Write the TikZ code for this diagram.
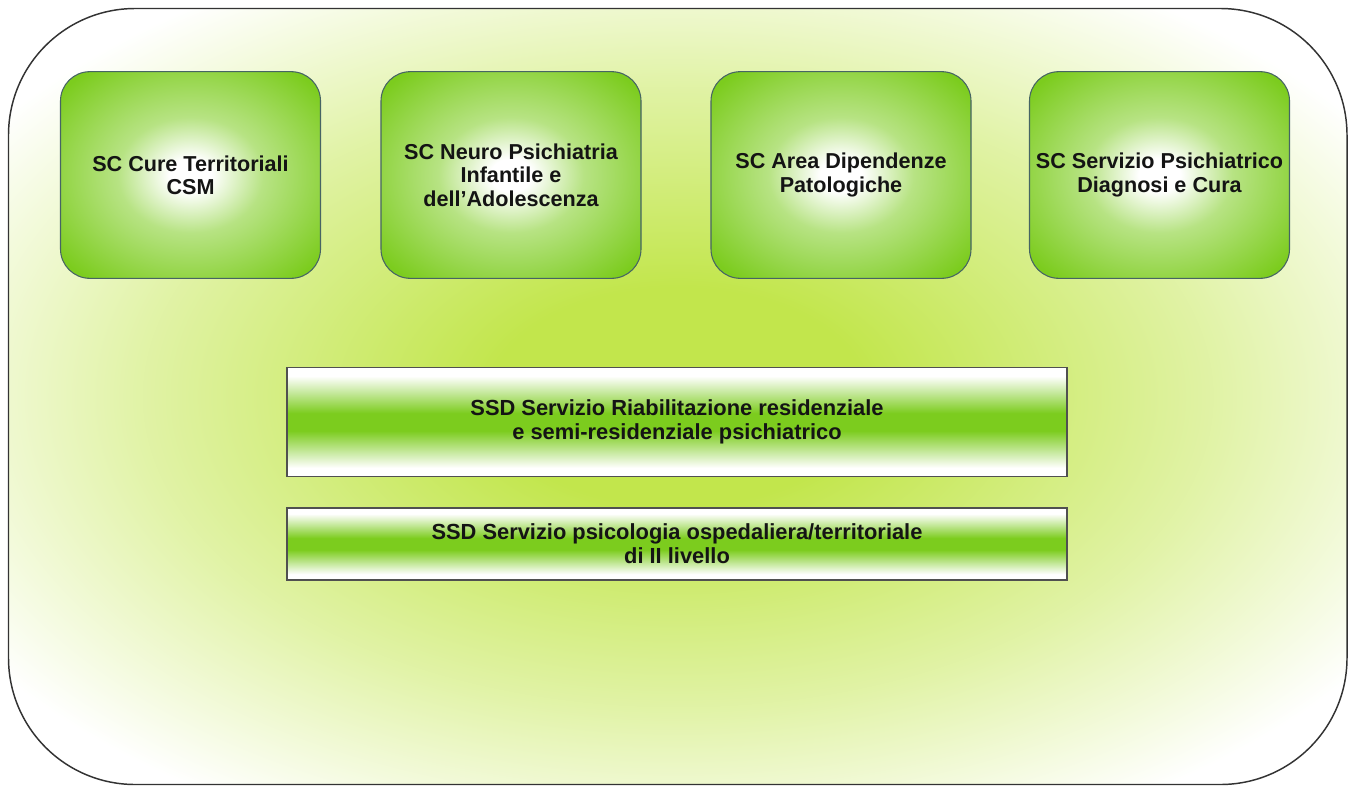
\documentclass[tikz,border=0pt]{standalone}
\usepackage{fontspec}
\setmainfont{Liberation Sans}
\definecolor{gboxc}{RGB}{124,204,30}
\definecolor{bgc}{RGB}{194,230,76}
\definecolor{boxline}{RGB}{70,100,100}
\definecolor{barline}{RGB}{80,80,80}
\definecolor{txtc}{RGB}{20,20,20}
\pgfdeclareradialshading{boxshade}{\pgfpoint{0bp}{0bp}}{color(0bp)=(white); color(4bp)=(white); color(14bp)=(white!45!gboxc); color(32bp)=(gboxc); color(50bp)=(gboxc)}
\pgfdeclareradialshading{bgshade}{\pgfpoint{0bp}{0bp}}{color(0bp)=(bgc); color(7bp)=(bgc); color(20bp)=(white!50!bgc); color(31bp)=(white); color(50bp)=(white)}
\pgfdeclareverticalshading{barshade}{100bp}{color(0bp)=(white); color(25bp)=(white); color(29bp)=(white); color(46bp)=(gboxc); color(54bp)=(gboxc); color(71bp)=(white); color(75bp)=(white); color(100bp)=(white)}
\tikzset{
  sbox/.style={draw=boxline, line width=0.8pt, rounded corners=22pt, shading=boxshade,
    minimum width=195pt, minimum height=155pt, align=center, inner sep=0pt,
    font=\bfseries\fontsize{16.2pt}{17.5pt}\selectfont, text=txtc},
  sbar/.style={draw=barline, line width=0.9pt, shading=barshade,
    minimum width=585pt, align=center, inner sep=0pt,
    font=\bfseries\fontsize{16.4pt}{17.8pt}\selectfont, text=txtc},
}
\begin{document}
\begin{tikzpicture}[x=0.75pt,y=-0.75pt]
\useasboundingbox (0,0) rectangle (1352,785);
\path[draw=black!80, line width=1.1pt, rounded corners=95pt, shading=bgshade]
  (8.5,8.5) rectangle (1347,784.5);
\node[sbox] (b1) at (190.5,175) {SC Cure Territoriali\\CSM};
\node[sbox] (b2) at (511,175) {SC Neuro Psichiatria\\Infantile e\\dell’Adolescenza};
\node[sbox] (b3) at (841,175) {SC Area Dipendenze\\Patologiche};
\node[sbox] (b4) at (1159.5,175) {SC Servizio Psichiatrico\\Diagnosi e Cura};
\node[sbar, minimum height=82pt] (s1) at (677,422) {SSD Servizio Riabilitazione residenziale\\ e semi-residenziale psichiatrico};
\node[sbar, minimum height=54pt] (s2) at (677,544) {SSD Servizio psicologia ospedaliera/territoriale\\di II livello};
\end{tikzpicture}
\end{document}
